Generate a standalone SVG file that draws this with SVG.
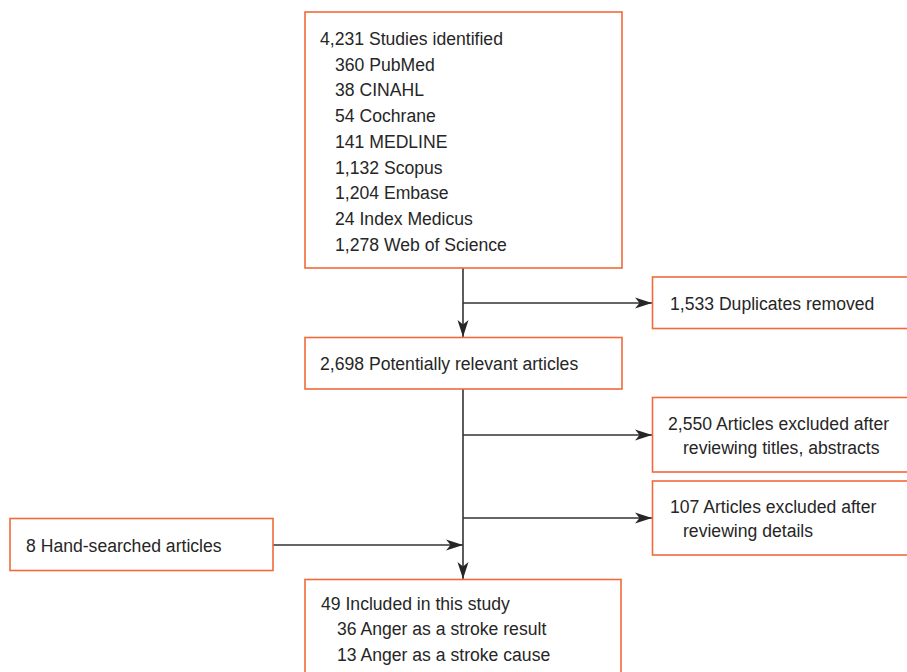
<svg xmlns="http://www.w3.org/2000/svg" width="907" height="672" viewBox="0 0 907 672">
  <defs>
    <style>
      .box { fill: #ffffff; stroke: #F06A3A; stroke-width: 1.6; }
      .txt { font-family: "Liberation Sans", Arial, sans-serif; font-size: 17.6px; fill: #262626; }
      .conn { stroke: #333333; stroke-width: 1.6; fill: none; }
    </style>
    <marker id="arr" markerUnits="userSpaceOnUse" markerWidth="18" markerHeight="12" refX="17" refY="6" orient="auto">
      <path d="M0,0.5 L17,6 L0,11.5 L4.5,6 z" fill="#262626"/>
    </marker>
  </defs>
  <rect width="907" height="672" fill="#ffffff"/>

  <g id="connectors">
    <line class="conn" x1="463" y1="268" x2="463" y2="337" marker-end="url(#arr)"/>
    <line class="conn" x1="463" y1="303" x2="652" y2="303" marker-end="url(#arr)"/>
    <line class="conn" x1="463" y1="389" x2="463" y2="579" marker-end="url(#arr)"/>
    <line class="conn" x1="463" y1="435" x2="652" y2="435" marker-end="url(#arr)"/>
    <line class="conn" x1="463" y1="518" x2="652" y2="518" marker-end="url(#arr)"/>
    <line class="conn" x1="273" y1="545" x2="463" y2="545" marker-end="url(#arr)"/>
  </g>

  <g id="identified">
    <rect class="box" x="305" y="12" width="317" height="256"/>
    <text class="txt" x="320" y="45">4,231 Studies identified</text>
    <text class="txt" x="335" y="70.7">360 PubMed</text>
    <text class="txt" x="335" y="96.4">38 CINAHL</text>
    <text class="txt" x="335" y="122.1">54 Cochrane</text>
    <text class="txt" x="335" y="147.8">141 MEDLINE</text>
    <text class="txt" x="335" y="173.5">1,132 Scopus</text>
    <text class="txt" x="335" y="199.2">1,204 Embase</text>
    <text class="txt" x="335" y="224.9">24 Index Medicus</text>
    <text class="txt" x="335" y="250.6">1,278 Web of Science</text>
  </g>

  <g id="duplicates">
    <rect class="box" x="652.5" y="277" width="270" height="51.5"/>
    <text class="txt" x="670" y="310">1,533 Duplicates removed</text>
  </g>

  <g id="relevant">
    <rect class="box" x="305" y="337.5" width="317" height="51.5"/>
    <text class="txt" x="320" y="370">2,698 Potentially relevant articles</text>
  </g>

  <g id="excluded-titles">
    <rect class="box" x="652.5" y="397.5" width="270" height="74.5"/>
    <text class="txt" x="668" y="430">2,550 Articles excluded after</text>
    <text class="txt" x="683" y="453.5">reviewing titles, abstracts</text>
  </g>

  <g id="excluded-details">
    <rect class="box" x="652.5" y="481" width="270" height="74"/>
    <text class="txt" x="670" y="512.5">107 Articles excluded after</text>
    <text class="txt" x="683" y="537">reviewing details</text>
  </g>

  <g id="hand-searched">
    <rect class="box" x="10" y="518.5" width="263" height="52"/>
    <text class="txt" x="26" y="551.5">8 Hand-searched articles</text>
  </g>

  <g id="included">
    <rect class="box" x="305" y="579.5" width="316" height="110"/>
    <text class="txt" x="321" y="609.5">49 Included in this study</text>
    <text class="txt" x="337" y="635">36 Anger as a stroke result</text>
    <text class="txt" x="337" y="661">13 Anger as a stroke cause</text>
  </g>
</svg>
